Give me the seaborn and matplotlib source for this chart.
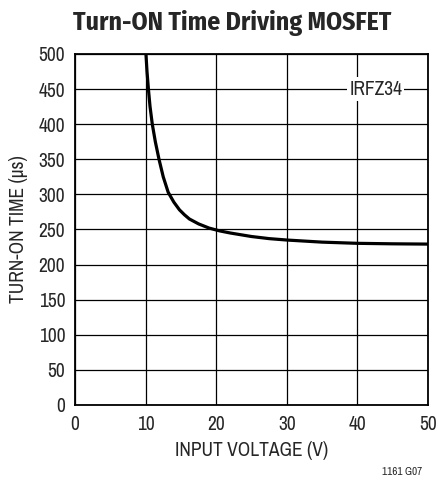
import numpy as np
import pandas as pd
import matplotlib
matplotlib.use("Agg")
import matplotlib.pyplot as plt
import seaborn as sns

# values (IRFZ34)
input_voltage = [10.05, 10.2, 10.4, 10.63, 10.95, 11.38, 11.9, 12.5, 13.2, 14.0, 14.8, 15.5,
                 16.2, 17.5, 19.0, 20.5, 22.0, 25.0, 27.5, 30.0, 35.0, 40.0, 45.0, 50.0]
turn_on_time = [500, 475, 450, 425, 400, 375, 350, 325, 303, 289, 278, 271,
                265, 258, 252, 248, 245, 240, 237, 235, 232, 230.3, 229.6, 229.2]

x_ticks = [0, 10, 20, 30, 40, 50]
y_ticks = [0, 50, 100, 150, 200, 250, 300, 350, 400, 450, 500]

sns.set_style("white")
plt.rcParams['font.family'] = ['Archivo Narrow', 'Liberation Sans', 'DejaVu Sans']
title_fonts = ['Fira Sans Condensed', 'Barlow Condensed', 'Liberation Sans', 'DejaVu Sans']

df = pd.DataFrame({'vin': input_voltage, 'ton': turn_on_time})

fig = plt.figure(figsize=(4.38, 4.83), dpi=100)
ax = fig.add_axes([0.1712, 0.1615, 0.806, 0.7267])

sns.lineplot(data=df, x='vin', y='ton', color='black', lw=2.3, ax=ax, zorder=3)

ax.set_xlim(0, 50)
ax.set_ylim(0, 500)
ax.set_xticks(x_ticks)
ax.set_yticks(y_ticks)
ax.tick_params(axis='both', length=0, labelsize=14, pad=7)
ax.grid(True, color='black', lw=0.9)
for s in ax.spines.values():
    s.set_color('black')
    s.set_linewidth(1.3)

ax.set_xlabel("INPUT VOLTAGE (V)", fontsize=14, labelpad=5)
ax.set_ylabel("TURN-ON TIME (\u00b5s)", fontsize=14, labelpad=8)

ax.text(42.6, 450, "IRFZ34", fontsize=14, ha='center', va='center', zorder=4,
        bbox=dict(facecolor='white', edgecolor='none', pad=1.5))

fig.text(0.53, 0.953, "Turn-ON Time Driving MOSFET", fontsize=18.5, fontweight='bold',
         family=title_fonts, ha='center', va='center')
fig.text(0.918, 0.013, "1161 G07", fontsize=8, ha='center', va='bottom')

fig.savefig("out.png", dpi=100)
